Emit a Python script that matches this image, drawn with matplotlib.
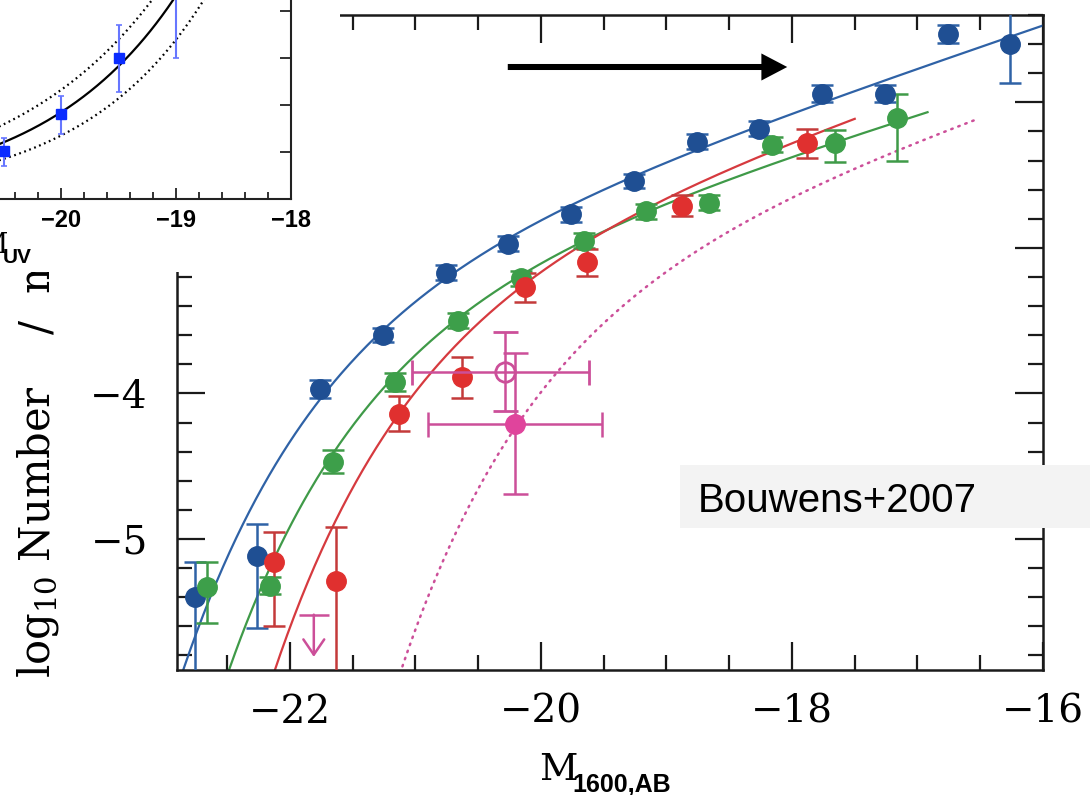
import numpy as np
import matplotlib
matplotlib.use("Agg")
import matplotlib.pyplot as plt
from matplotlib.patches import Rectangle, FancyArrowPatch, ArrowStyle
from matplotlib.ticker import MultipleLocator, NullFormatter

# ---------------------------------------------------------------- data
# stepwise UV luminosity functions (log10 phi) with asymmetric errors
mag_z4 = [-22.76, -22.26, -21.76, -21.26, -20.76, -20.26, -19.76,
          -19.26, -18.76, -18.26, -17.76, -17.26, -16.76, -16.26]
phi_z4 = [-5.40, -5.12, -3.97, -3.60, -3.17, -2.97, -2.77,
          -2.54, -2.27, -2.18, -1.94, -1.94, -1.53, -1.60]
lo_z4 = [0.60, 0.49, 0.06, 0.05, 0.05, 0.05, 0.05,
         0.05, 0.05, 0.05, 0.06, 0.06, 0.06, 0.27]
hi_z4 = [0.24, 0.22, 0.06, 0.05, 0.05, 0.05, 0.05,
         0.05, 0.05, 0.05, 0.06, 0.06, 0.06, 0.27]

mag_z5 = [-22.66, -22.16, -21.66, -21.16, -20.66, -20.16,
          -19.66, -19.16, -18.66, -18.16, -17.66, -17.16]
phi_z5 = [-5.33, -5.32, -4.47, -3.92, -3.50, -3.21,
          -2.95, -2.75, -2.69, -2.29, -2.28, -2.11]
lo_z5 = [0.25, 0.06, 0.08, 0.06, 0.05, 0.05,
         0.05, 0.05, 0.05, 0.05, 0.13, 0.29]
hi_z5 = [0.17, 0.06, 0.08, 0.06, 0.05, 0.05,
         0.05, 0.05, 0.05, 0.05, 0.09, 0.17]

mag_z6 = [-22.13, -21.63, -21.13, -20.63, -20.13, -19.63, -18.88, -17.88]
phi_z6 = [-5.16, -5.29, -4.14, -3.89, -3.27, -3.10, -2.71, -2.28]
lo_z6 = [0.44, 0.70, 0.12, 0.14, 0.10, 0.09, 0.07, 0.10]
hi_z6 = [0.21, 0.37, 0.12, 0.14, 0.10, 0.09, 0.07, 0.10]

# z~7 constraints
mag_z7 = [-20.29, -20.21]
phi_z7 = [-3.85, -4.21]
xlo_z7 = [0.74, 0.69]
xhi_z7 = [0.67, 0.70]
ylo_z7 = [0.27, 0.48]
yhi_z7 = [0.27, 0.49]
mag_lim, phi_lim, lim_len = -21.81, -5.52, 0.29

# Schechter fits: z~4, z~5, z~6, z~7 (dotted)
fit_mstar = [-20.98, -20.64, -20.24, -19.23]
fit_phistar = [1.3e-3, 1.0e-3, 1.4e-3, 1.43e-3]
fit_alpha = [-1.73, -1.66, -1.74, -1.74]
fit_faint = [-16.0, -16.92, -17.50, -16.52]
fit_bright = [-22.95, -22.95, -22.95, -21.3]

# small panel: binned points and fit with its confidence envelope
ins_mag = [-20.5, -20.0, -19.5, -19.0]
ins_val = [1.02, 1.81, 3.00, 4.70]
ins_lo = [0.32, 0.43, 0.72, 1.70]
ins_hi = [0.28, 0.38, 0.70, 1.70]
ins_amp = [1.845, 2.32, 1.35]      # central, upper, lower
ins_slope = [0.37, 0.33, 0.40]

# ---------------------------------------------------------------- style
W, H, DPI = 1090, 795, 100
plt.rcParams['font.family'] = ['DejaVu Serif']
plt.rcParams['mathtext.fontset'] = 'dejavuserif'

BLUE, BLUE_L = '#1f4f93', '#2f62a6'
GREEN, GREEN_L = '#3d9f4a', '#3f9a48'
RED, RED_L, RED_E = '#e0302f', '#d63a3f', '#c43a3a'
MAG, MAG_F = '#cc4f99', '#e0449c'


def fx(px):
    return px / W


def fy(py):
    return 1 - py / H


def schechter(m, mstar, phistar, alpha):
    x = 10 ** (-0.4 * (m - mstar))
    return np.log10(0.4 * np.log(10) * phistar * x ** (alpha + 1) * np.exp(-x))


fig = plt.figure(figsize=(W / DPI, H / DPI), dpi=DPI)

# ---------------------------------------------------------------- main panel
ax = fig.add_axes([fx(177), fy(670), fx(1043 - 177), (670 - 15) / H])
ax.set_xlim(-22.9, -16.0)
ax.set_ylim(-5.9, -1.4)

fit_colors = [BLUE_L, GREEN_L, RED_L, MAG]
for i in range(4):
    m = np.linspace(fit_bright[i], fit_faint[i], 400)
    if i < 3:
        ax.plot(m, schechter(m, fit_mstar[i], fit_phistar[i], fit_alpha[i]),
                color=fit_colors[i], lw=1.6, zorder=2)
    else:
        ax.plot(m, schechter(m, fit_mstar[i], fit_phistar[i], fit_alpha[i]),
                color=fit_colors[i], lw=1.8, ls=(0, (0.6, 2.4)),
                dash_capstyle='round', zorder=2)

common = dict(fmt='o', ms=14, elinewidth=1.8, capsize=8, capthick=1.8, zorder=3)
ax.errorbar(mag_z4, phi_z4, yerr=[lo_z4, hi_z4], color=BLUE, ecolor=BLUE_L,
            mec=BLUE, **common)
ax.errorbar(mag_z5, phi_z5, yerr=[lo_z5, hi_z5], color=GREEN, ecolor=GREEN_L,
            mec=GREEN, **common)
ax.errorbar(mag_z6, phi_z6, yerr=[lo_z6, hi_z6], color=RED, ecolor=RED_E,
            mec=RED, **common)

# z~7: open and filled points with magnitude and density ranges
ax.errorbar([mag_z7[0]], [phi_z7[0]], xerr=[[xlo_z7[0]], [xhi_z7[0]]],
            yerr=[[ylo_z7[0]], [yhi_z7[0]]], fmt='o', ms=14, mfc='none',
            mec=MAG, mew=2.0, ecolor=MAG, elinewidth=1.8, capsize=9,
            capthick=1.8, zorder=4)
ax.errorbar([mag_z7[1]], [phi_z7[1]], xerr=[[xlo_z7[1]], [xhi_z7[1]]],
            yerr=[[ylo_z7[1]], [yhi_z7[1]]], fmt='o', ms=14, color=MAG_F,
            mec=MAG_F, ecolor=MAG, elinewidth=1.8, capsize=9,
            capthick=1.8, zorder=4)

# z~7 upper limit
ax.hlines(phi_lim, mag_lim - 0.12, mag_lim + 0.12, color=MAG, lw=1.8, zorder=4)
ax.annotate('', xy=(mag_lim, phi_lim - lim_len), xytext=(mag_lim, phi_lim),
            arrowprops=dict(arrowstyle='->,head_length=1.1,head_width=0.75',
                            color=MAG, lw=1.8, shrinkA=0, shrinkB=0),
            zorder=4)

ax.set_xticks([-22, -20, -18, -16])
ax.xaxis.set_minor_locator(MultipleLocator(0.5))
ax.yaxis.set_major_locator(MultipleLocator(1))
ax.yaxis.set_minor_locator(MultipleLocator(0.2))
ax.tick_params(which='both', direction='in', top=True, right=True,
               width=1.6, color='#1a1a1a', labelsize=28)
ax.tick_params(which='major', length=20)
ax.tick_params(which='minor', length=11)
ax.tick_params(axis='x', which='major', pad=17)
ax.tick_params(axis='y', which='major', pad=21)
for sp in ax.spines.values():
    sp.set_linewidth(1.8)
    sp.set_color('#1a1a1a')

# axis titles
fig.text(fx(50), fy(678), r'log$_{10}$ Number    /  mag$^{-1}$  Mpc$^{-3}$',
         rotation=90, rotation_mode='anchor', ha='left', va='baseline',
         fontsize=30, zorder=1)
fig.text(fx(539), fy(780), 'M', fontsize=27, ha='left', va='baseline')
fig.text(fx(572), fy(792), '1600,AB', fontsize=18, family='Liberation Sans',
         weight='bold', ha='left', va='baseline')

# ---------------------------------------------------------------- small panel
fig.add_artist(Rectangle((0, fy(272)), fx(340), 272 / H,
                         transform=fig.transFigure, facecolor='white',
                         edgecolor='none', zorder=5))

ins = fig.add_axes([fx(-54), fy(199), fx(345), 258.5 / H], zorder=6)
ins.set_xlim(-21.0, -18.0)
ins.set_ylim(0, 5.5)
mi = np.linspace(-21.0, -18.0, 300)
ins.plot(mi, ins_amp[0] * 10 ** (ins_slope[0] * (mi + 20)), color='black', lw=1.6)
for j in (1, 2):
    ins.plot(mi, ins_amp[j] * 10 ** (ins_slope[j] * (mi + 20)), color='black',
             lw=1.6, ls=(0, (0.8, 1.6)))
ins.errorbar(ins_mag, ins_val, yerr=[ins_lo, ins_hi], fmt='s', ms=7,
             color='#0a2cff', ecolor='#6676ff', elinewidth=1.5, capsize=2.5,
             capthick=1.2)
ins.set_xticks([-21, -20, -19, -18])
ins.xaxis.set_minor_locator(MultipleLocator(0.2))
ins.set_yticks([1, 2, 3, 4])
ins.yaxis.set_major_formatter(NullFormatter())
ins.tick_params(which='both', direction='in', top=True, right=True,
                width=1.3, color='#222222')
ins.tick_params(which='major', length=8)
ins.tick_params(which='minor', length=5)
ins.tick_params(axis='x', labelsize=17, pad=7)
for lab in ins.get_xticklabels():
    lab.set_family('Liberation Sans')
    lab.set_weight('bold')
for sp in ins.spines.values():
    sp.set_linewidth(1.5)
    sp.set_color('#222222')
fig.text(fx(8), fy(253), 'M', fontsize=20, ha='right', va='baseline', zorder=7)
fig.text(fx(3), fy(263), 'UV', fontsize=15, family='Liberation Sans',
         weight='bold', ha='left', va='baseline', zorder=7)

# ---------------------------------------------------------------- annotations
arrow = FancyArrowPatch((fx(505), fy(67)), (fx(790), fy(67)),
                        transform=fig.transFigure,
                        arrowstyle=ArrowStyle('simple', head_length=0.62,
                                              head_width=0.65, tail_width=0.145),
                        mutation_scale=30, facecolor='black',
                        edgecolor='none', zorder=8)
fig.add_artist(arrow)

fig.add_artist(Rectangle((fx(680), fy(528)), fx(W - 680), 63 / H,
                         transform=fig.transFigure, facecolor='#f3f3f3',
                         edgecolor='none', zorder=8))
fig.text(fx(698), fy(512), 'Bouwens+2007', fontsize=29,
         family='Liberation Sans', ha='left', va='baseline', zorder=9)

fig.savefig('out.png', dpi=DPI)
